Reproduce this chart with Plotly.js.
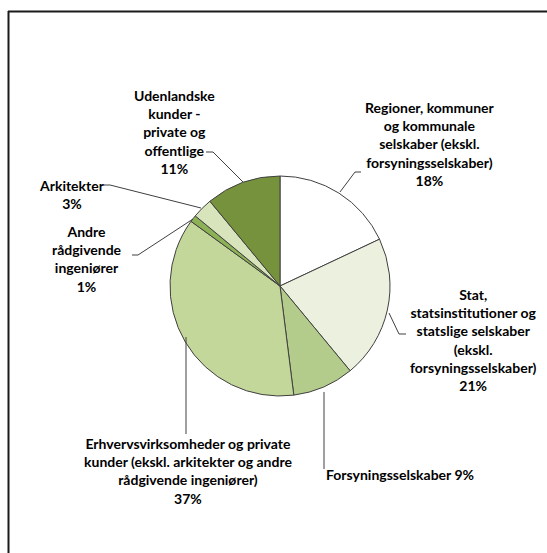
<!DOCTYPE html>
<html>
<head>
<meta charset="utf-8">
<script src="https://cdn.plot.ly/plotly-3.0.1.min.js"></script>
<style>
html,body{margin:0;padding:0;background:#fff;}
#chart{width:547px;height:553px;}
</style>
</head>
<body>
<div id="chart"></div>
<script>
// Data
var categories = [
  "Regioner, kommuner og kommunale selskaber (ekskl. forsyningsselskaber)",
  "Stat, statsinstitutioner og statslige selskaber (ekskl. forsyningsselskaber)",
  "Forsyningsselskaber",
  "Erhvervsvirksomheder og private kunder (ekskl. arkitekter og andre rådgivende ingeniører)",
  "Andre rådgivende ingeniører",
  "Arkitekter",
  "Udenlandske kunder - private og offentlige"
];
var values = [18, 21, 9, 37, 1, 3, 11];
var sliceColors = ["#FFFFFF", "#EBF1DE", "#B3CC8C", "#C4D79B", "#8DB255", "#D8E4BC", "#76923C"];
// Label texts as shown (line breaks as in the reference)
var labelTexts = [
  "Regioner, kommuner<br>og kommunale<br>selskaber (ekskl.<br>forsyningsselskaber)<br>18%",
  "Stat,<br>statsinstitutioner og<br>statslige selskaber<br>(ekskl.<br>forsyningsselskaber)<br>21%",
  "Forsyningsselskaber 9%",
  "Erhvervsvirksomheder og private<br>kunder (ekskl. arkitekter og andre<br>rådgivende ingeniører)<br>37%",
  "Andre<br>rådgivende<br>ingeniører<br>1%",
  "Arkitekter<br>3%",
  "Udenlandske<br>kunder -<br>private og<br>offentlige<br>11%"
];

// Layout helpers (pixel positions of labels and leader lines)
var W = 547, H = 553;
var labelPos = [
  {x: 430, y: 144, xa: "center"},
  {x: 473, y: 340, xa: "center"},
  {x: 324, y: 474, xa: "left"},
  {x: 188, y: 471, xa: "center"},
  {x: 87,  y: 259, xa: "center"},
  {x: 72,  y: 194, xa: "center"},
  {x: 174, y: 132, xa: "center"}
];
var leaders = [
  [[340,192],[355,172],[361,172]],
  [[389,313],[399,334],[406,334]],
  [[324,392],[324,469]],
  [[186,337],[186,434]],
  [[193,219],[138,255],[132,255]],
  [[201,208],[110,185],[104,185]],
  [[243,182],[213,152],[206,152]]
];

var font = {family: "Lato, 'Open Sans', sans-serif", size: 14, color: "#000"};
var annotations = labelTexts.map(function(t, i){
  return {x: labelPos[i].x, y: labelPos[i].y, xref: "x", yref: "y", text: "<b>" + t.split("<br>").join("</b><br><b>") + "</b>",
    showarrow: false, xanchor: labelPos[i].xa, yanchor: "middle", align: "center", font: font};
});
var shapes = leaders.map(function(pts){
  var p = "M" + pts.map(function(q){return q[0] + "," + q[1];}).join("L");
  return {type: "path", xref: "x", yref: "y", path: p, line: {color: "#404040", width: 1}};
});
// frame (top and left edges)
shapes.push({type: "line", xref: "x", yref: "y", x0: 8, x1: 547, y0: 11.5, y1: 11.5, line: {color: "#1a1a1a", width: 2}});
shapes.push({type: "line", xref: "x", yref: "y", x0: 8.5, x1: 8.5, y0: 11, y1: 553, line: {color: "#1a1a1a", width: 2}});

var trace = {
  type: "pie",
  labels: categories,
  values: values,
  sort: false,
  direction: "clockwise",
  rotation: 0,
  textinfo: "none",
  hoverinfo: "label+percent",
  marker: {colors: sliceColors, line: {color: "#404040", width: 1}},
  domain: {x: [170 / W, 390 / W], y: [1 - 396 / H, 1 - 176 / H]},
  showlegend: false
};

var layout = {
  width: W, height: H,
  margin: {l: 0, r: 0, t: 0, b: 0},
  paper_bgcolor: "#fff", plot_bgcolor: "rgba(0,0,0,0)",
  xaxis: {range: [0, W], visible: false, fixedrange: true},
  yaxis: {range: [H, 0], visible: false, fixedrange: true},
  annotations: annotations,
  shapes: shapes,
  showlegend: false
};

Plotly.newPlot("chart", [trace], layout, {displayModeBar: false, staticPlot: true});
</script>
</body>
</html>
